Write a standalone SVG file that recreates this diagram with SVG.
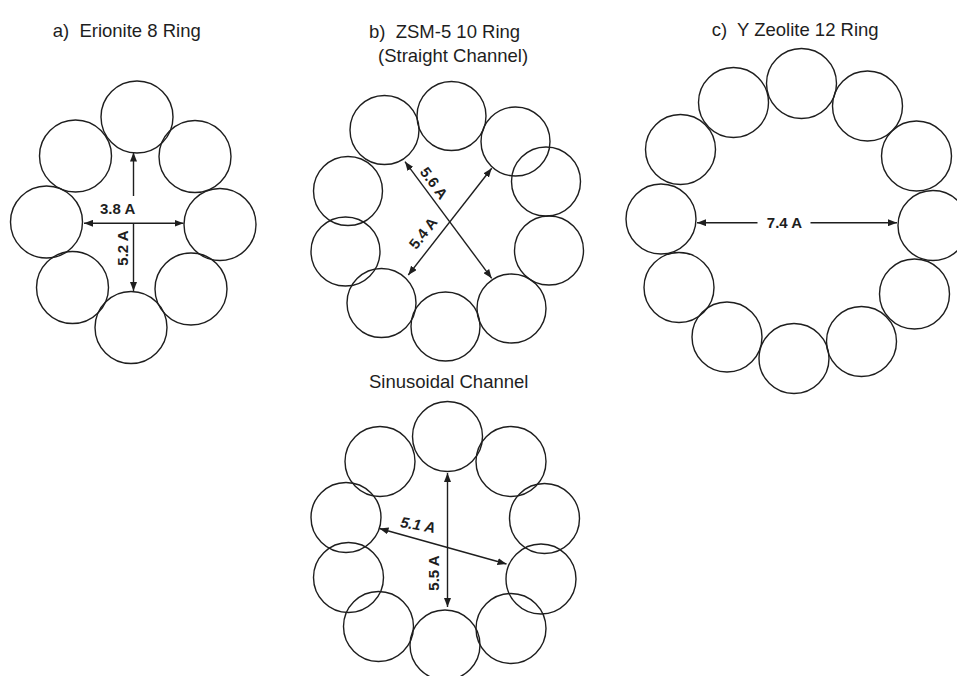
<svg xmlns="http://www.w3.org/2000/svg" width="957" height="676" viewBox="0 0 957 676">
<defs>
<style>
.c{fill:none;stroke:#1e1e1e;stroke-width:1.4}
.t{font-family:"Liberation Sans",Arial,sans-serif;font-size:18.5px;fill:#1e1e1e;white-space:pre}
.l{font-family:"Liberation Sans",Arial,sans-serif;font-size:15px;font-weight:bold;fill:#1e1e1e}
.a{stroke:#1e1e1e;stroke-width:1.4;fill:none}
.a2{stroke:#1e1e1e;stroke-width:1.4;fill:none;marker-start:url(#ah);marker-end:url(#ah)}
.a1{stroke:#1e1e1e;stroke-width:1.4;fill:none;marker-end:url(#ah)}
.a0{stroke:#1e1e1e;stroke-width:1.4;fill:none;marker-start:url(#ah)}
</style>
<marker id="ah" markerWidth="9" markerHeight="7" refX="9" refY="3.5" orient="auto-start-reverse" markerUnits="userSpaceOnUse">
<path d="M0,0 L9,3.5 L0,7 z" fill="#1e1e1e"/>
</marker>
</defs>
<rect width="957" height="676" fill="#ffffff"/>

<g id="erionite">
<text class="t" x="52.7" y="37" xml:space="preserve">a)  Erionite 8 Ring</text>
<circle class="c" cx="137" cy="117" r="36"/>
<circle class="c" cx="75.5" cy="156" r="36"/>
<circle class="c" cx="195" cy="156.5" r="36"/>
<circle class="c" cx="46.5" cy="222" r="36"/>
<circle class="c" cx="220" cy="224.5" r="36"/>
<circle class="c" cx="72.5" cy="287.5" r="36"/>
<circle class="c" cx="191" cy="289" r="36"/>
<circle class="c" cx="131" cy="327.5" r="36"/>
</g>

<g id="zsm5-straight">
<text class="t" x="369" y="38" xml:space="preserve">b)  ZSM-5 10 Ring</text>
<text class="t" x="378" y="61.5">(Straight Channel)</text>
<circle class="c" cx="451.5" cy="116" r="34.5"/>
<circle class="c" cx="384.5" cy="130" r="34.5"/>
<circle class="c" cx="515.5" cy="141.5" r="34.5"/>
<circle class="c" cx="546" cy="181.5" r="34.5"/>
<circle class="c" cx="549" cy="250.5" r="34.5"/>
<circle class="c" cx="511.5" cy="308.5" r="34.5"/>
<circle class="c" cx="445.5" cy="326.5" r="34.5"/>
<circle class="c" cx="381.5" cy="303" r="34.5"/>
<circle class="c" cx="345.5" cy="251.5" r="34.5"/>
<circle class="c" cx="348" cy="191" r="34.5"/>
</g>

<g id="y-zeolite">
<text class="t" x="711.7" y="36" xml:space="preserve">c)  Y Zeolite 12 Ring</text>
<circle class="c" cx="801.5" cy="83.5" r="35"/>
<circle class="c" cx="733.5" cy="102.5" r="35"/>
<circle class="c" cx="680.5" cy="149.5" r="35"/>
<circle class="c" cx="661" cy="219" r="35"/>
<circle class="c" cx="679" cy="287.5" r="35"/>
<circle class="c" cx="727" cy="337" r="35"/>
<circle class="c" cx="794" cy="358.5" r="35"/>
<circle class="c" cx="861.5" cy="341.5" r="35"/>
<circle class="c" cx="914.5" cy="294" r="35"/>
<circle class="c" cx="933" cy="225.5" r="35"/>
<circle class="c" cx="916.5" cy="156" r="35"/>
<circle class="c" cx="867.5" cy="106" r="35"/>
</g>

<g id="zsm5-sinusoidal">
<text class="t" x="369" y="388">Sinusoidal Channel</text>
<circle class="c" cx="447.5" cy="436.5" r="35"/>
<circle class="c" cx="380" cy="461.5" r="35"/>
<circle class="c" cx="511" cy="461.5" r="35"/>
<circle class="c" cx="346" cy="517.5" r="35"/>
<circle class="c" cx="544.5" cy="518.5" r="35"/>
<circle class="c" cx="348.5" cy="577.5" r="35"/>
<circle class="c" cx="541" cy="579" r="35"/>
<circle class="c" cx="378.5" cy="626.5" r="35"/>
<circle class="c" cx="445" cy="645" r="35"/>
<circle class="c" cx="511" cy="628.5" r="35"/>
</g>

<g id="connectors">
<!-- erionite -->
<line class="a1" x1="133.5" y1="196" x2="133.5" y2="152.5"/>
<line class="a1" x1="133.5" y1="223.3" x2="133.5" y2="291"/>
<line class="a2" x1="84" y1="223.3" x2="183.5" y2="223.3"/>
<text class="l" x="100" y="214">3.8 A</text>
<text class="l" text-anchor="middle" transform="translate(127.5,248) rotate(-90)">5.2 A</text>
<!-- zsm-5 straight -->
<line class="a2" x1="405" y1="161.7" x2="491.7" y2="278.3"/>
<line class="a2" x1="491.7" y1="168.3" x2="408.3" y2="275"/>
<text class="l" text-anchor="middle" transform="translate(429.8,186.2) rotate(53.4)">5.6 A</text>
<text class="l" text-anchor="middle" transform="translate(427.2,236.3) rotate(-52)">5.4 A</text>
<!-- y zeolite -->
<line class="a0" x1="697" y1="222.7" x2="757.5" y2="222.7"/>
<line class="a1" x1="810.5" y1="222.7" x2="897" y2="222.7"/>
<text class="l" text-anchor="middle" x="784.5" y="227.5">7.4 A</text>
<!-- sinusoidal -->
<line class="a2" x1="447.5" y1="473" x2="447.5" y2="607"/>
<line class="a2" x1="379.5" y1="528.5" x2="506.5" y2="564"/>
<text class="l" text-anchor="middle" transform="translate(438.5,573) rotate(-90)">5.5 A</text>
<text class="l" font-style="italic" text-anchor="middle" transform="translate(417,530) rotate(10)">5.1 A</text>
</g>
</svg>
